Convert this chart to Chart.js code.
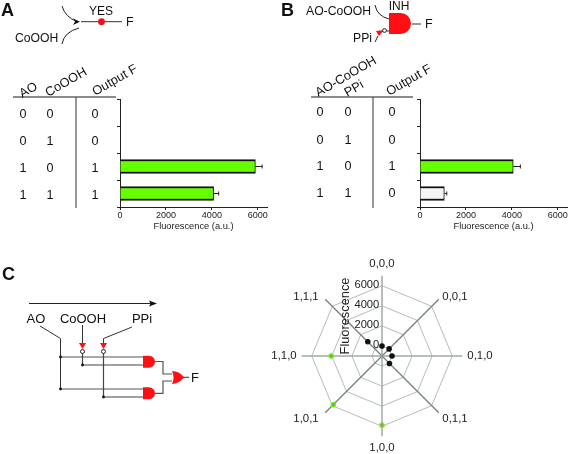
<!DOCTYPE html>
<html>
<head>
<meta charset="utf-8">
<title>Logic gates</title>
<script src="https://cdn.jsdelivr.net/npm/chart.js@4"></script>
<style>
  html, body { margin: 0; padding: 0; background: #fff; overflow: hidden; }
  #page { position: relative; width: 569px; height: 454px; overflow: hidden; }
  canvas, svg { position: absolute; }
  #art { will-change: transform; }
  svg text { font-family: "Liberation Sans", Arial, sans-serif; fill: #111; }
</style>
</head>
<body>
<div id="page">
  <svg id="art" width="569" height="454" style="left:0;top:0"></svg>
  <canvas id="chartA" width="180" height="144" style="left:100px;top:90px"></canvas>
  <canvas id="chartB" width="180" height="144" style="left:400px;top:90px"></canvas>
  <canvas id="radar" width="300" height="199" style="left:232px;top:256.5px"></canvas>
</div>
<script>
const SANS = '"Liberation Sans", Arial, sans-serif';

// panel A
const rowsA = ["0,0", "0,1", "1,0", "1,1"];
const fluorA = [0, 0, 5895, 4075];
const errA = [0, 0, 6190, 4295];
const colorsA = ["#66ff00", "#66ff00", "#66ff00", "#66ff00"];
const headA = ["AO", "CoOOH", "Output F"];
const col1A = ["0", "0", "1", "1"];
const col2A = ["0", "1", "0", "1"];
const outA = ["0", "0", "1", "1"];

// panel B
const rowsB = ["0,0", "0,1", "1,0", "1,1"];
const fluorB = [0, 0, 4060, 1060];
const errB = [0, 0, 4370, 1165];
const colorsB = ["#66ff00", "#66ff00", "#66ff00", "#f3f6f3"];
const headB = ["AO-CoOOH", "PPi", "Output F"];
const col1B = ["0", "0", "1", "1"];
const col2B = ["0", "1", "0", "1"];
const outB = ["0", "0", "1", "0"];

// panel C
const spokes = ["0,0,0", "0,0,1", "0,1,0", "0,1,1", "1,0,0", "1,0,1", "1,1,0", "1,1,1"];
const spokeFluor = [0, 0, 0, 50, 5890, 5860, 4060, 1000];
const spokeErr = [0, 0, 0, 0, 250, 250, 0, 0];
const spokeDots = ["#111", "#111", "#111", "#111", "#8a9a70", "#8a9a70", "#8a9a70", "#111"];
const spokeRings = ["#111", "#111", "#111", "#111", "#66ff00", "#66ff00", "#66ff00", "#111"];

const barTicks = [0, 2000, 4000, 6000];
const radarTicks = [0, 2000, 4000, 6000];

// ---- drawings and tables (svg)
const art = document.getElementById("art");

function el(name, attrs, text) {
  const e = document.createElementNS("http://www.w3.org/2000/svg", name);
  for (const k in attrs) e.setAttribute(k, attrs[k]);
  if (text !== undefined) e.textContent = text;
  art.appendChild(e);
  return e;
}
function label(x, y, s, size, anchor, extra) {
  return el("text", Object.assign({ x: x, y: y, "font-size": size || 12, "text-anchor": anchor || "middle", "dominant-baseline": "central" }, extra || {}), s);
}
function line(d, color, w) {
  el("path", { d: d, fill: "none", stroke: color || "#222", "stroke-width": w || 1 });
}
function dot(x, y, r, fill, stroke) {
  el("circle", { cx: x, cy: y, r: r, fill: fill || "#111", stroke: stroke || "none" });
}
function andGate(x, y, w, h) {
  const r = h / 2;
  el("path", { d: `M${x},${y} H${x + w - r} A${r},${r} 0 0 1 ${x + w - r},${y + h} H${x} Z`, fill: "#ff0f14" });
}
function table(head, headX, headY, cols, colX, rowY, left, right, vx) {
  line(`M${left},97 H${right}`, "#666", 1.6);
  line(`M${vx},97 V208`, "#333", 1);
  head.forEach((h, i) => {
    label(headX[i], headY[i], h, 12.8, "start", { transform: `rotate(-30 ${headX[i]} ${headY[i]})` });
  });
  cols.forEach((c, i) => c.forEach((v, j) => label(colX[i], rowY[j], v, 12.6)));
}

// A
label(1, 10, "A", 18, "start", { "font-weight": "bold" });
label(101, 11, "YES", 12);
label(126, 22, "F", 12.5, "start");
label(15, 37.5, "CoOOH", 12.2, "start");
line("M62,6 Q65,17 77,21.5");
el("path", { d: "M80,21.7 L73,18.5 L75,21.7 L73,25 Z", fill: "#111" });
line("M81,21.7 H122", "#333");
dot(101.5, 21.7, 3.4, "#f4101a");
line("M62,44 Q64,32 79,28");
table(headA, [20, 46, 93], [94, 93, 92], [col1A, col2A, outA], [23, 50, 95], [113.5, 141, 168, 195], 13, 116, 76);

// B
label(281, 10, "B", 18, "start", { "font-weight": "bold" });
label(399, 6, "INH", 12);
label(306, 11, "AO-CoOOH", 12.2, "start");
label(353, 37.5, "PPi", 12.2, "start");
label(425, 24, "F", 12.5, "start");
line("M375,5 Q377,16 389,19");
andGate(389, 13, 22, 21);
line("M412,24 H421", "#333");
line("M375,42 L378,36");
el("path", { d: "M376,31 L384,30 L379,36 Z", fill: "#ff0f14" });
dot(384.5, 30.5, 1.9, "#fff", "#222");
line("M386.5,31 H389", "#333");
table(headB, [316, 345, 387], [93, 93, 92], [col1B, col2B, outB], [320, 348, 392], [112, 140, 166, 193], 311, 413, 373);

// C
label(2, 274, "C", 18, "start", { "font-weight": "bold" });
line("M29,303.5 H151", "#222");
el("path", { d: "M157,303.5 L149,300.5 L150.5,303.5 L149,306.5 Z", fill: "#111" });
label(36, 318, "AO", 13);
label(83, 318, "CoOOH", 13);
label(142, 318, "PPi", 13);
line("M40,326 L60.5,338.5 V389", "#333");
line("M60.5,357 H143", "#555", 1.2);
line("M60.5,389 H143", "#555", 1.2);
line("M82.5,325 V345", "#333");
line("M82.5,353.5 V365 H143", "#444", 1.2);
line("M132,327 L103.5,338.5 V345", "#333");
line("M103.5,353.5 V397 H143", "#444", 1.2);
[[82.5, 343], [103.5, 343]].forEach(p => {
  el("path", { d: `M${p[0] - 3.5},${p[1]} H${p[0] + 3.5} L${p[0]},${p[1] + 6} Z`, fill: "#ff0f14" });
  dot(p[0], p[1] + 8.5, 2, "#fff", "#222");
});
[[60.5, 357], [60.5, 389], [82.5, 365], [103.5, 397]].forEach(p => dot(p[0], p[1], 1.4));
andGate(143, 355.7, 12, 12);
andGate(143, 387.3, 12, 12);
line("M155,361.5 H163 V374 H172", "#555", 1.2);
line("M155,393.3 H163 V381 H172", "#555", 1.2);
el("path", { d: "M172,371 Q179,371 184,377.3 Q179,384 172,384 Q175,377.5 172,371 Z", fill: "#ff0f14" });
line("M183,377.3 H189", "#333");
label(191, 377, "F", 13, "start");

// ---- bar charts
function errorBars(hi) {
  return {
    id: "errorBars",
    afterDatasetsDraw(chart) {
      const c = chart.ctx, x = chart.scales.x, y = chart.scales.y, vals = chart.data.datasets[0].data;
      c.save();
      c.strokeStyle = "#222";
      c.lineWidth = 1;
      hi.forEach((h, i) => {
        if (!h) return;
        const py = y.getPixelForValue(i), x0 = x.getPixelForValue(vals[i]), x1 = x.getPixelForValue(h);
        c.beginPath();
        c.moveTo(x0, py);
        c.lineTo(x1, py);
        c.moveTo(x1, py - 2);
        c.lineTo(x1, py + 2);
        c.stroke();
      });
      c.restore();
    }
  };
}

function barChart(id, rows, vals, colors, hi) {
  return new Chart(document.getElementById(id), {
    type: "bar",
    data: {
      labels: rows,
      datasets: [{
        data: vals,
        backgroundColor: colors,
        borderColor: "#111",
        borderWidth: { top: 2, bottom: 2, right: 1, left: 0 },
        barThickness: 14
      }]
    },
    plugins: [errorBars(hi)],
    options: {
      indexAxis: "y",
      responsive: false,
      animation: false,
      layout: { padding: { top: 9, right: 13, bottom: 0, left: 0 } },
      plugins: { legend: { display: false }, tooltip: { enabled: false } },
      scales: {
        x: {
          min: 0,
          max: 6400,
          afterBuildTicks: a => { a.ticks = barTicks.map(v => ({ value: v })); },
          afterFit: a => { a.height = 27; },
          grid: { drawOnChartArea: false, tickLength: 3, tickColor: "#222" },
          border: { color: "#222" },
          ticks: { color: "#222", font: { family: SANS, size: 9 }, padding: 0, maxRotation: 0, autoSkip: false, callback: v => String(v) },
          title: { display: true, text: "Fluorescence (a.u.)", color: "#222", font: { family: SANS, size: 9.3 }, padding: { top: 0, bottom: 2 } }
        },
        y: {
          afterFit: a => { a.width = 20; },
          grid: { drawOnChartArea: false, tickLength: 3, tickColor: "#222" },
          border: { color: "#222" },
          ticks: { display: false }
        }
      }
    }
  });
}

barChart("chartA", rowsA, fluorA, colorsA, errA);
barChart("chartB", rowsB, fluorB, colorsB, errB);

// ---- radar
const labelNudgeX = [0, 0, 0, 0, 0, -3, 0, -3];
const labelNudgeY = [0, 8, 0, -4, 0, -4, 0, 8];

const radarExtras = {
  id: "radarExtras",
  beforeDatasetsDraw(chart) {
    const c = chart.ctx, r = chart.scales.r;
    c.save();
    c.strokeStyle = "#111";
    c.lineWidth = 1.4;
    spokeErr.forEach((e, i) => {
      if (!e) return;
      const a = r.getPointPositionForValue(i, spokeFluor[i] - e), b = r.getPointPositionForValue(i, spokeFluor[i] + e);
      c.beginPath();
      c.moveTo(a.x, a.y);
      c.lineTo(b.x, b.y);
      c.stroke();
    });
    c.fillStyle = "#222";
    c.font = "11.2px " + SANS;
    c.textAlign = "right";
    c.textBaseline = "middle";
    radarTicks.forEach(v => {
      c.fillText(String(v), r.xCenter - 2.7, r.yCenter - r.getDistanceFromCenterForValue(v) - 1);
    });
    c.translate(r.xCenter - 36.4, r.yCenter - 40);
    c.rotate(-Math.PI / 2);
    c.textAlign = "center";
    c.font = "12.8px " + SANS;
    c.fillText("Fluorescence", 0, 0);
    c.restore();
  }
};

new Chart(document.getElementById("radar"), {
  type: "radar",
  data: {
    labels: spokes,
    datasets: [{
      data: spokeFluor,
      showLine: false,
      fill: false,
      pointRadius: 2.2,
      pointBorderWidth: 1.2,
      pointBackgroundColor: spokeDots,
      pointBorderColor: spokeRings
    }]
  },
  plugins: [radarExtras],
  options: {
    responsive: false,
    animation: false,
    layout: { padding: 0 },
    plugins: { legend: { display: false }, tooltip: { enabled: false } },
    scales: {
      r: {
        min: -1000,
        max: 7000,
        afterBuildTicks: a => { a.ticks = radarTicks.map(v => ({ value: v })); },
        afterFit: a => {
          a._pointLabelItems.forEach((it, i) => {
            it.x += labelNudgeX[i];
            it.y += labelNudgeY[i];
          });
        },
        ticks: { display: false },
        grid: { color: "#b4bcbc", lineWidth: 1 },
        angleLines: {
          lineWidth: ctx => (ctx.index % 2 === 0 ? 1.5 : 1.3),
          color: ctx => (ctx.index % 2 === 0 ? "#a0a8a8" : "#75807f")
        },
        pointLabels: { color: "#222", font: { family: SANS, size: 11.4 }, padding: 5 }
      }
    }
  }
});
</script>
</body>
</html>
